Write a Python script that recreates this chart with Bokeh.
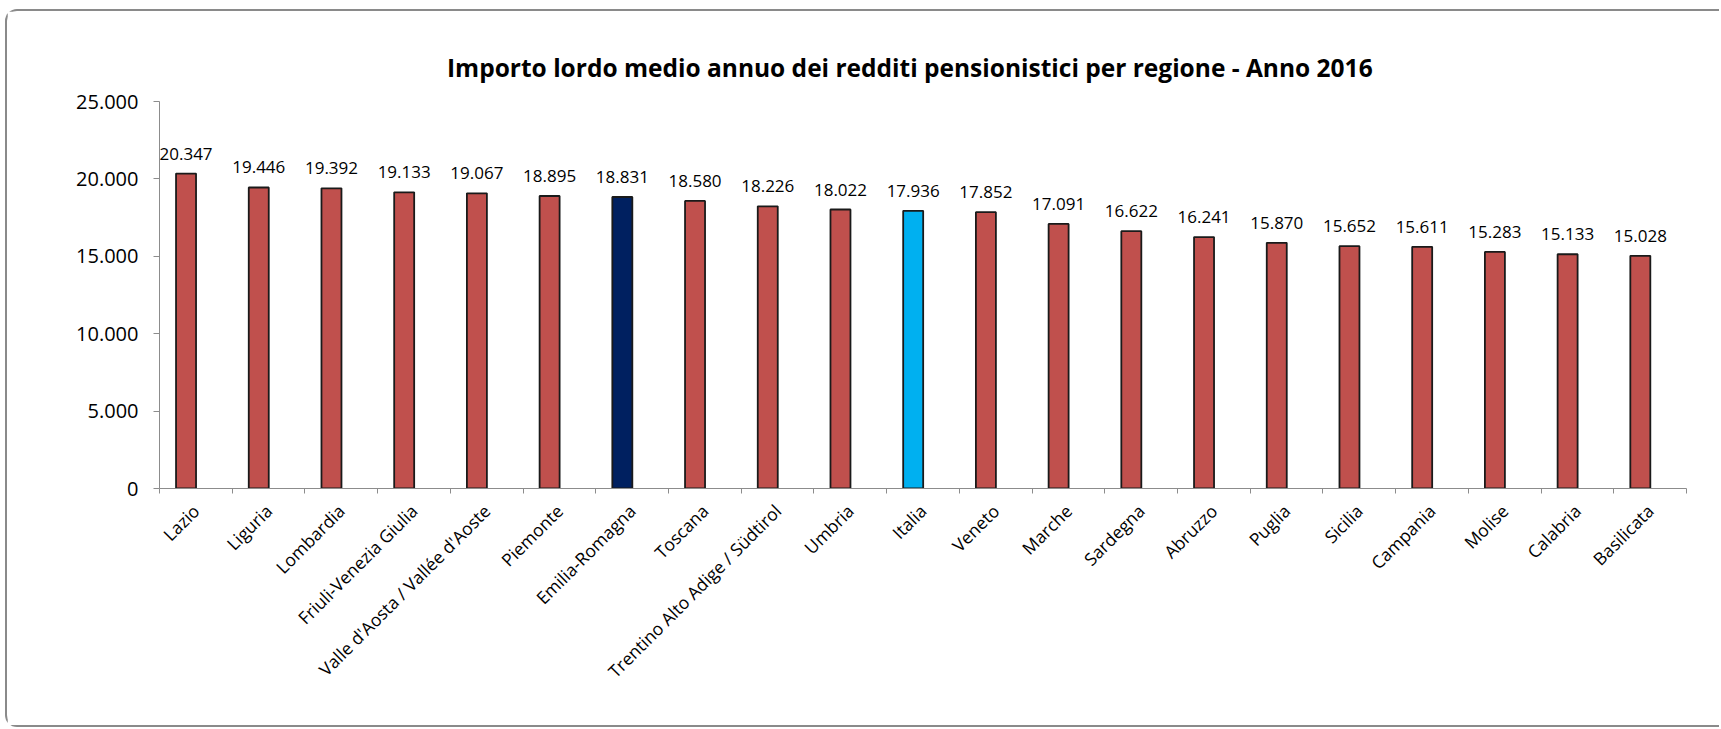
import math
from bokeh.plotting import figure
from bokeh.models import Range1d, FixedTicker, ColumnDataSource
from bokeh.core.properties import value as V
from bokeh.embed import file_html
from bokeh.resources import INLINE

# ---- data ----
regions = ["Lazio", "Liguria", "Lombardia", "Friuli-Venezia Giulia",
           "Valle d'Aosta / Vallée d'Aoste", "Piemonte", "Emilia-Romagna",
           "Toscana", "Trentino Alto Adige / Südtirol", "Umbria", "Italia",
           "Veneto", "Marche", "Sardegna", "Abruzzo", "Puglia", "Sicilia",
           "Campania", "Molise", "Calabria", "Basilicata"]
values = [20347, 19446, 19392, 19133, 19067, 18895, 18831, 18580, 18226,
          18022, 17936, 17852, 17091, 16622, 16241, 15870, 15652, 15611,
          15283, 15133, 15028]
y_ticks = [0, 5000, 10000, 15000, 20000, 25000]
y_tick_labels = ["0", "5.000", "10.000", "15.000", "20.000", "25.000"]
title_text = "Importo lordo medio annuo dei redditi pensionistici per regione  - Anno 2016"

# ---- styles ----
BASE = "#C0504D"
highlight = {"Emilia-Romagna": "#002060", "Italia": "#00B0F0"}
FONT = "Open Sans"
AXIS_GRAY = "#8C8C8C"
BAR_OFFSET = 0.365   # bars sit left of the category centre (as in the original)

n = len(regions)
centers = [i + 0.5 for i in range(n)]
bar_x = [i + BAR_OFFSET for i in range(n)]
colors = [highlight.get(r, BASE) for r in regions]
labels = [f"{v:,}".replace(",", ".") for v in values]

src = ColumnDataSource(dict(x=bar_x, top=values, color=colors, label=labels))

p = figure(width=1714, height=718, output_backend="svg", toolbar_location=None,
           x_range=Range1d(0, n), y_range=Range1d(0, 25000),
           min_border_left=152, min_border_right=35, min_border_top=90,
           min_border_bottom=241)
p.styles = {"border": "2px solid #8a8a8a", "border-right": "none",
            "border-radius": "12px 0 0 12px", "margin-left": "5px", "margin-top": "9px"}

p.title.text = title_text
p.title.text_font = FONT
p.title.text_font_size = "24.5px"
p.title.text_font_style = "bold"
p.title.align = "center"
p.title.text_color = "#000000"
p.title.padding = (0, 20, 0, 13)

p.vbar(x="x", top="top", width=0.275, bottom=0, source=src,
       fill_color="color", line_color="#1a1a1a", line_width=1.8)

p.text(x="x", y="top", text="label", source=src, text_align="center",
       text_baseline="middle", y_offset=-20, text_font_size="17px",
       text_font=V(FONT), text_color="#000000")

p.xgrid.visible = False
p.ygrid.visible = False
p.outline_line_color = None

xa = p.xaxis[0]
xa.ticker = FixedTicker(ticks=centers, minor_ticks=list(range(n + 1)))
xa.major_label_overrides = {x: r for x, r in zip(centers, regions)}
xa.major_label_orientation = math.pi / 4
xa.major_tick_out = 0
xa.major_tick_in = 0
xa.minor_tick_out = 5
xa.minor_tick_in = 0
xa.axis_line_color = AXIS_GRAY
xa.minor_tick_line_color = AXIS_GRAY
xa.major_label_text_font = FONT
xa.major_label_text_font_size = "17.5px"
xa.major_label_text_color = "#000000"
xa.major_label_standoff = 14

ya = p.yaxis[0]
ya.ticker = FixedTicker(ticks=y_ticks, minor_ticks=[])
ya.major_label_overrides = {t: l for t, l in zip(y_ticks, y_tick_labels)}
ya.major_tick_out = 6
ya.major_tick_in = 0
ya.axis_line_color = AXIS_GRAY
ya.major_tick_line_color = AXIS_GRAY
ya.major_label_text_font = FONT
ya.major_label_text_font_size = "20px"
ya.major_label_text_color = "#000000"
ya.major_label_standoff = 15

open("out.html", "w").write(file_html(p, INLINE))
